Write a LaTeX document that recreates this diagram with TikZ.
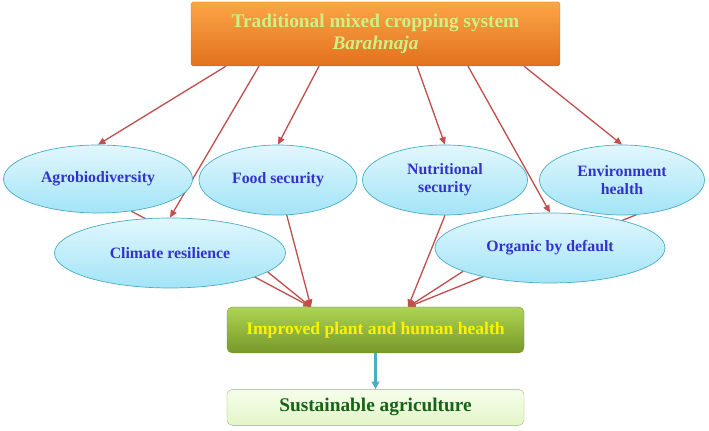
\documentclass[tikz,border=0pt]{standalone}
\usepackage{fontspec}
\setmainfont{Liberation Serif}
\usepackage{tikz}
\usetikzlibrary{arrows.meta,positioning,shapes.geometric,calc,backgrounds}
\definecolor{orangetop}{RGB}{251, 166, 70}
\definecolor{orangebot}{RGB}{226, 112, 30}
\definecolor{orangeedge}{RGB}{214, 112, 34}
\definecolor{palegreen}{RGB}{206, 240, 134}
\definecolor{cyantop}{RGB}{226, 247, 253}
\definecolor{cyanbot}{RGB}{162, 228, 247}
\definecolor{cyanedge}{RGB}{75, 172, 198}
\definecolor{benefitblue}{RGB}{51, 51, 204}
\definecolor{linkred}{RGB}{192, 80, 77}
\definecolor{greentop}{RGB}{172, 212, 82}
\definecolor{greenbot}{RGB}{120, 152, 42}
\definecolor{greenedge}{RGB}{118, 146, 48}
\definecolor{goaltop}{RGB}{246, 253, 236}
\definecolor{goalbot}{RGB}{226, 246, 200}
\definecolor{goaledge}{RGB}{155, 187, 89}
\definecolor{goaltext}{RGB}{22, 100, 22}

\begin{document}
\begin{tikzpicture}[
  sysbox/.style={rectangle, draw=orangeedge, top color=orangetop, bottom color=orangebot, rounded corners=2pt, minimum width=14.76cm, minimum height=2.56cm, align=center, text=palegreen, font=\fontsize{22}{25}\selectfont\bfseries},
  benefit/.style={ellipse, draw=cyanedge, line width=0.8pt, top color=cyantop, bottom color=cyanbot, minimum height=2.8cm, inner sep=0pt, align=center, text=benefitblue, font=\fontsize{18}{21}\selectfont\bfseries},
  healthbox/.style={rectangle, draw=greenedge, top color=greentop, bottom color=greenbot, rounded corners=6pt, minimum width=11.88cm, minimum height=1.84cm, text=yellow, font=\fontsize{20}{23}\selectfont\bfseries},
  goalbox/.style={rectangle, draw=goaledge, top color=goaltop, bottom color=goalbot, rounded corners=6pt, minimum width=11.88cm, minimum height=1.44cm, text=goaltext, font=\fontsize{22}{25}\selectfont\bfseries},
  redarr/.style={-{Triangle[length=3mm, width=2.6mm]}, line width=1.5pt, linkred},
  bluearr/.style={-{Triangle[length=3mm, width=3mm]}, line width=2.5pt, cyanedge}
]
  \useasboundingbox (0,0) rectangle (28.36,17.24);
  \node[sysbox] (sys) at (15.02,15.88) {Traditional mixed cropping system\\\textit{Barahnaja}};
  \node[benefit, minimum width=7.56cm, minimum height=2.72cm] (agro) at (3.92,10.08) {Agrobiodiversity};
  \node[benefit, minimum width=6.32cm] (food) at (11.12,10.04) {Food security};
  \node[benefit, minimum width=6.6cm] (nutr) at (17.8,10.04) {Nutritional\\security};
  \node[benefit, minimum width=6.6cm] (env) at (24.88,10.04) {Environment\\health};
  \node[benefit, minimum width=9.24cm] (clim) at (6.8,7.12) {Climate resilience};
  \node[benefit, minimum width=9.2cm] (org) at (22.0,7.32) {Organic by default};
  \node[healthbox] (health) at (15.02,4.04) {Improved plant and human health};
  \node[goalbox, below=1.44cm of health] (goal) {Sustainable agriculture};
  \coordinate (inL) at (12.44,4.96);
  \coordinate (inR) at (16.32,4.96);

  \begin{pgfonlayer}{background}
    % from the cropping system to each benefit
    \foreach \dx/\to in {-5.98/agro, -4.66/clim, -2.26/food, 1.66/nutr, 3.70/org, 5.94/env}
      \draw[redarr] ([xshift=\dx cm]sys.south) -- (\to.north);
    % benefits into health
    \foreach \from in {agro.-44, clim.-11, food.-76}
      \draw[redarr] (\from) -- (inL);
    \foreach \from in {nutr.south, org.195, env.-68}
      \draw[redarr] (\from) -- (inR);
  \end{pgfonlayer}
  \draw[bluearr] (health) -- (goal);
\end{tikzpicture}
\end{document}
